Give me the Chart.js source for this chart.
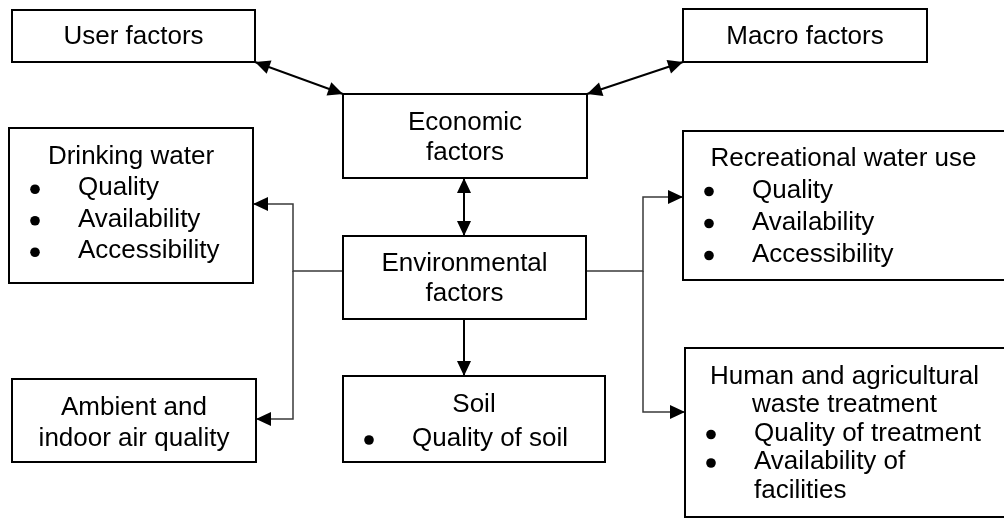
<!DOCTYPE html>
<html>
<head>
<meta charset="utf-8">
<script src="https://cdn.jsdelivr.net/npm/chart.js@4"></script>
<style>
  html, body { margin: 0; padding: 0; background: #fff; }
  canvas { display: block; }
</style>
</head>
<body>
<canvas id="diagram" width="1004" height="527"></canvas>
<script>
// Diagram units: x to the right, y downwards, one unit per pixel of the figure.
const boxNames = ['user', 'macro', 'economic', 'environmental', 'drinking',
                  'recreational', 'air', 'soil', 'waste'];
const boxLeft   = [12, 683, 343, 343, 9, 683, 12, 343, 685];
const boxTop    = [10, 9, 94, 236, 128, 131, 379, 376, 348];
const boxRight  = [255, 927, 587, 586, 253, 1006, 256, 605, 1006];
const boxBottom = [62, 62, 178, 319, 283, 280, 462, 462, 517];

// '* ' = bullet item, '  ' = indented line, anything else is centred
const boxText = [
    ['User factors'],
    ['Macro factors'],
    ['Economic', 'factors'],
    ['Environmental', 'factors'],
    ['Drinking water', '* Quality', '* Availability', '* Accessibility'],
    ['Recreational water use', '* Quality', '* Availability', '* Accessibility'],
    ['Ambient and', 'indoor air quality'],
    ['Soil', '* Quality of soil'],
    ['Human and agricultural', 'waste treatment', '* Quality of treatment',
     '* Availability of', '  facilities']
];

const linkPoints = [
    [[255, 62], [343, 94]],                         // user <-> economic
    [[683, 62], [587, 94]],                         // macro <-> economic
    [[464, 178], [464, 236]],                       // economic <-> environmental
    [[464, 319], [464, 376]],                       // environmental -> soil
    [[343, 271], [293, 271], [293, 204], [253, 204]],   // -> drinking water
    [[293, 271], [293, 419], [256, 419]],               // -> air quality
    [[586, 271], [643, 271], [643, 197], [683, 197]],   // -> recreational
    [[643, 271], [643, 412], [685, 412]]                // -> waste treatment
];
const linkHeads = ['both', 'both', 'both', 'end', 'end', 'end', 'end', 'end'];

// styling
const FONT = '26px "Liberation Sans", Arial, sans-serif';
const lineGap = [30, 30, 30, 30, 31.5, 32, 31, 34, 28.5];
const textShift = [1, 1, 2, 1, -1.5, 1, 3, 3, 1];
const linkColor = ['#000', '#000', '#000', '#000', '#3a3a3a', '#3a3a3a', '#3a3a3a', '#3a3a3a'];
const linkWidth = [2, 2, 2, 2, 1.5, 1.5, 1.5, 1.5];

const datasets = [];
boxNames.forEach(function(name, i) {
    const x0 = boxLeft[i], x1 = boxRight[i], y0 = boxTop[i], y1 = boxBottom[i];
    datasets.push({
        label: name,
        kind: 'box',
        index: i,
        data: [{x: x0, y: y0}, {x: x1, y: y0}, {x: x1, y: y1}, {x: x0, y: y1}, {x: x0, y: y0}],
        borderColor: '#000',
        borderWidth: 2,
        borderJoinStyle: 'miter',
        borderCapStyle: 'square',
        pointRadius: 0,
        showLine: true,
        fill: false,
        clip: false
    });
});
linkPoints.forEach(function(pts, i) {
    datasets.push({
        label: 'link' + i,
        kind: 'link',
        index: i,
        data: pts.map(function(p) { return {x: p[0], y: p[1]}; }),
        borderColor: linkColor[i],
        borderWidth: linkWidth[i],
        pointRadius: 0,
        showLine: true,
        fill: false,
        clip: false
    });
});

function drawHead(ctx, tip, from) {
    const ang = Math.atan2(tip.y - from.y, tip.x - from.x);
    const len = 15, half = 7;
    ctx.save();
    ctx.translate(tip.x, tip.y);
    ctx.rotate(ang);
    ctx.beginPath();
    ctx.moveTo(0, 0);
    ctx.lineTo(-len, -half);
    ctx.lineTo(-len, half);
    ctx.closePath();
    ctx.fillStyle = '#000';
    ctx.fill();
    ctx.restore();
}

const diagramPlugin = {
    id: 'diagram',
    afterDatasetsDraw(chart) {
        const ctx = chart.ctx;
        const xs = chart.scales.x, ys = chart.scales.y;
        chart.data.datasets.forEach(function(ds, di) {
            const pts = chart.getDatasetMeta(di).data;
            if (ds.kind === 'link') {
                const n = pts.length;
                drawHead(ctx, pts[n - 1], pts[n - 2]);
                if (linkHeads[ds.index] === 'both') drawHead(ctx, pts[0], pts[1]);
            } else {
                const i = ds.index;
                const lines = boxText[i];
                const gap = lineGap[i];
                const left = xs.getPixelForValue(boxLeft[i]);
                const cx = xs.getPixelForValue((boxLeft[i] + Math.min(boxRight[i], 1004)) / 2);
                const cy = ys.getPixelForValue((boxTop[i] + boxBottom[i]) / 2) + textShift[i];
                ctx.save();
                ctx.font = FONT;
                ctx.fillStyle = '#000';
                ctx.textBaseline = 'middle';
                lines.forEach(function(t, k) {
                    const y = cy + (k - (lines.length - 1) / 2) * gap;
                    if (t.startsWith('* ') || t.startsWith('  ')) {
                        if (t.startsWith('* ')) {
                            ctx.beginPath();
                            ctx.arc(left + 26, y + 1, 4.8, 0, Math.PI * 2);
                            ctx.fill();
                        }
                        ctx.textAlign = 'left';
                        ctx.fillText(t.slice(2), left + 69, y);
                    } else {
                        ctx.textAlign = 'center';
                        ctx.fillText(t, cx, y);
                    }
                });
                ctx.restore();
            }
        });
    }
};

new Chart(document.getElementById('diagram').getContext('2d'), {
    type: 'scatter',
    data: { datasets: datasets },
    options: {
        responsive: false,
        animation: false,
        events: [],
        layout: { padding: 0 },
        plugins: { legend: { display: false }, tooltip: { enabled: false } },
        scales: {
            x: { type: 'linear', min: 0, max: 1004, display: false },
            y: { type: 'linear', min: 0, max: 527, reverse: true, display: false }
        }
    },
    plugins: [diagramPlugin]
});
</script>
</body>
</html>
